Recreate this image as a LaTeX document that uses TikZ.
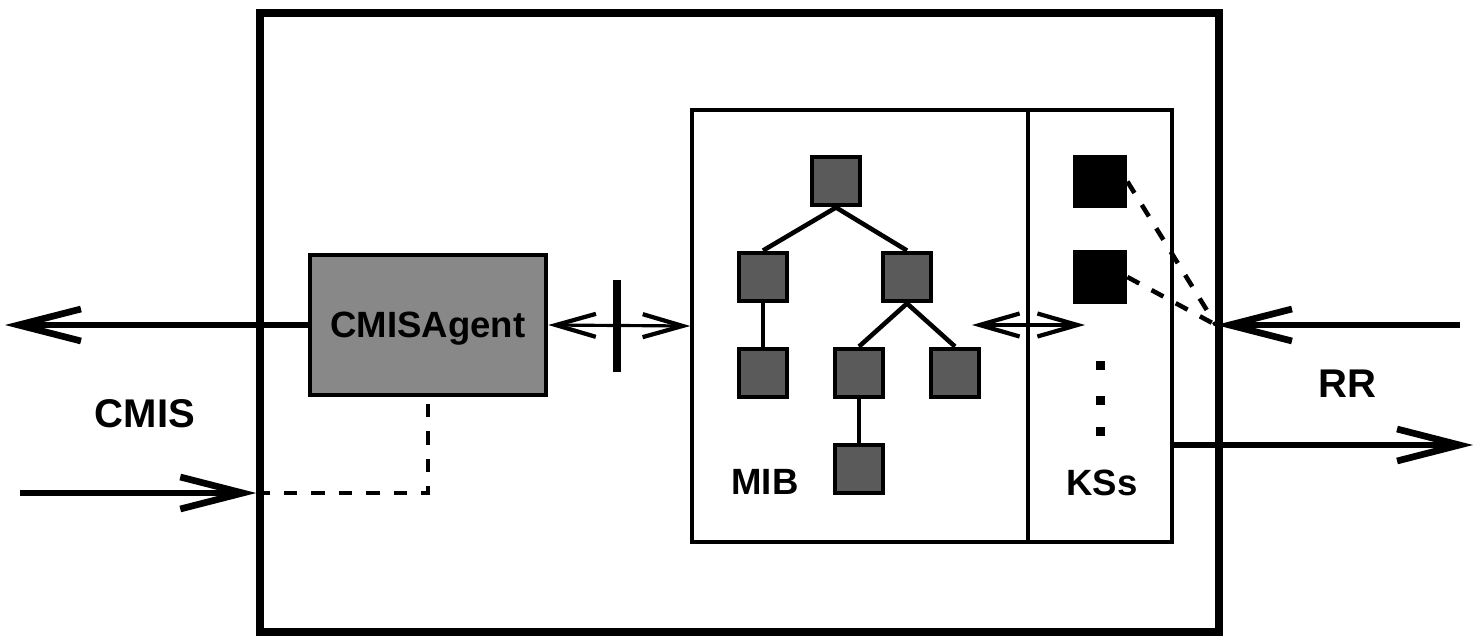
\documentclass[tikz,border=0pt]{standalone}
\usepackage{fontspec}
\setmainfont{Liberation Sans}
\usetikzlibrary{arrows.meta}

\begin{document}
\begin{tikzpicture}[x=0.02cm, y=-0.02cm, font=\bfseries,
        frame/.style={draw, line width=2pt, inner sep=0pt},
        leaf/.style={draw, fill=leafGray, line width=2.8pt, minimum size=0.96cm, inner sep=0pt},
        ksbox/.style={fill=black, minimum size=1.08cm, inner sep=0pt},
        edge/.style={line width=2.6pt},
        big/.style={font=\fontsize{22.8}{24}\selectfont\bfseries},
        small/.style={font=\fontsize{20.8}{22}\selectfont\bfseries},
        wire/.style={line width=3.4pt, -{Straight Barb[length=1.25cm, width=0.64cm, line width=3.8pt]}},
        twoway/.style={line width=1.8pt,
            {Straight Barb[length=0.8cm, width=0.46cm, line width=2.4pt]}-{Straight Barb[length=0.8cm, width=0.46cm, line width=2.4pt]}},
        dashes/.style={line width=2.6pt, dash pattern=on 0.27cm off 0.28cm}]
        % --- COULEURS ---
        \definecolor{agentGray}{RGB}{136,136,136}
        \definecolor{leafGray}{RGB}{90,90,90}

        \useasboundingbox (0,0) rectangle (1480,636);

        % Boite principale
        \node[draw, line width=4.4pt, minimum width=19.18cm, minimum height=12.38cm] (host) at (739.5,322.5) {};

        % Agent
        \node[draw, fill=agentGray, line width=2.6pt, minimum width=4.72cm, minimum height=2.8cm,
              text depth=0pt, small] (agent) at (428,325) {CMISAgent};

        % MIB et KSs
        \node[frame, minimum width=6.72cm, minimum height=8.64cm] (mib) at (860,326) {};
        \node[frame, minimum width=2.88cm, minimum height=8.64cm] (ks) at (1100,326) {};

        % --- ARBRE ---
        \node[leaf] (r)   at (836,181) {};
        \node[leaf] (a)   at (763,277) {};
        \node[leaf] (b)   at (907,277) {};
        \node[leaf] (aa)  at (763,373) {};
        \node[leaf] (ba)  at (859,373) {};
        \node[leaf] (bb)  at (955,373) {};
        \node[leaf] (baa) at (859,469) {};
        \draw[edge] (r.south) -- (a.north);
        \draw[edge] (r.south) -- (b.north);
        \draw[edge] (a.south) -- (aa.north);
        \draw[edge] (b.south) -- (ba.north);
        \draw[edge] (b.south) -- (bb.north);
        \draw[edge] (ba.south) -- (baa.north);

        % Sources de connaissance
        \node[ksbox] (ks1) at (1100,181.5) {};
        \node[ksbox] (ks2) at (1100,277) {};
        \foreach \y in {365,400,431}
            \fill (1100,\y) +(-4.5,-4.5) rectangle +(4.5,4.5);

        % --- LIAISONS ---
        \coordinate (cmisout) at (5,325);
        \coordinate (cmisin)  at (20,493);
        \coordinate (entry)   at (host.west |- cmisin);
        \coordinate (rrin)    at (1460,325);
        \coordinate (hub)     at (1216,325);
        \coordinate (rrfrom)  at (ks.east |- 0,445);
        \coordinate (rrout)   at (1473,445);
        \coordinate (kl)      at (972,325);
        \coordinate (kr)      at (1085,325);

        \draw[wire] (agent.west) -- (cmisout);
        \draw[wire] (cmisin) -- (entry);
        \draw[dashes] (entry) -| (agent.south);

        \draw[twoway] (agent.east) -- (mib.west);
        \draw[line width=4.5pt] (617,280) -- (617,372);
        \draw[twoway] (kl) -- (kr);

        \draw[wire] (rrin) -- (hub);
        \draw[dashes] (ks1.east) -- (hub);
        \draw[dashes] (ks2.east) -- (hub);
        \draw[wire] (rrfrom) -- (rrout);

        % Etiquettes
        \node[big, anchor=base] (cmis) at (145,427) {CMIS};
        \node[big, anchor=base] (rr) at (1347,397) {RR};
        \node[small, anchor=base] (miblabel) at (765,494) {MIB};
        \node[small, anchor=base] (kslabel) at (1102,495) {KSs};
    \end{tikzpicture}
\end{document}
